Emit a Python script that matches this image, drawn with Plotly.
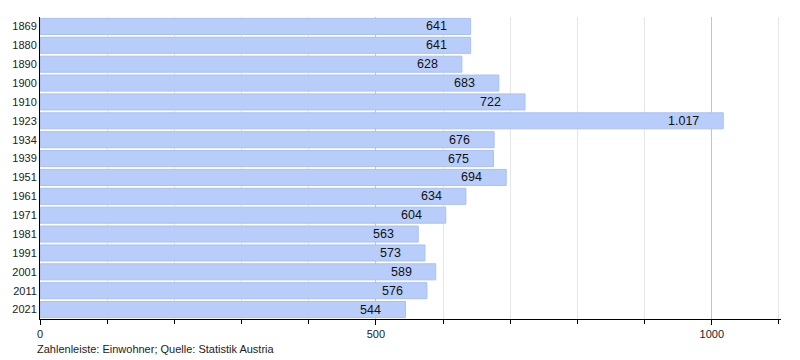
import plotly.graph_objects as go

years = ["1869", "1880", "1890", "1900", "1910", "1923", "1934", "1939", "1951",
         "1961", "1971", "1981", "1991", "2001", "2011", "2021"]
population = [641, 641, 628, 683, 722, 1017, 676, 675, 694, 634, 604, 563, 573, 589, 576, 544]
x_tick_vals = [0, 500, 1000]
x_tick_text = ["0", "500", "1000"]

labels = [f"{v:,}".replace(",", ".") for v in population]
idx = list(range(len(years)))

fig = go.Figure()
fig.add_trace(go.Bar(
    y=idx, x=population, orientation="h",
    marker=dict(color="#b8cdf9", line=dict(color="#a9c0f3", width=1)),
    hoverinfo="skip",
))
for i, v, t in zip(idx, population, labels):
    fig.add_annotation(x=v, y=i, text=t, showarrow=False, xanchor="right",
                       xshift=-22, font=dict(family="Liberation Sans, Arial", size=12.5, color="#111"))

fig.update_layout(
    width=792, height=352,
    margin=dict(l=32, r=19, t=9, b=41),
    paper_bgcolor="white", plot_bgcolor="white",
    bargap=0.15, showlegend=False,
    font=dict(family="Liberation Sans, Arial", size=11, color="#222"),
)
fig.update_xaxes(
    range=[0, 1103], tickvals=x_tick_vals, ticktext=x_tick_text,
    showgrid=True, gridcolor="#c4c4c4", gridwidth=1,
    ticks="outside", ticklen=5, tickcolor="#000",
    showline=True, linecolor="#000", linewidth=1, zeroline=False,
    minor=dict(dtick=100, tick0=0, showgrid=True, gridcolor="#e6e6e6",
               ticks="outside", ticklen=4, tickcolor="#000"),
    tickfont=dict(size=11), layer="below traces", automargin=False,
)
fig.update_yaxes(
    range=[len(years) - 0.5, -0.5], tickvals=idx, ticktext=years,
    showline=True, linecolor="#000", linewidth=1,
    ticks="", showgrid=False, zeroline=False, tickfont=dict(size=11), automargin=False,
)
fig.add_annotation(xref="paper", yref="paper", x=-5/741, y=-30/302,
                   text="Zahlenleiste: Einwohner; Quelle: Statistik Austria",
                   showarrow=False, xanchor="left", yanchor="middle",
                   font=dict(size=11, color="#222"))
fig.write_html("out.html")
